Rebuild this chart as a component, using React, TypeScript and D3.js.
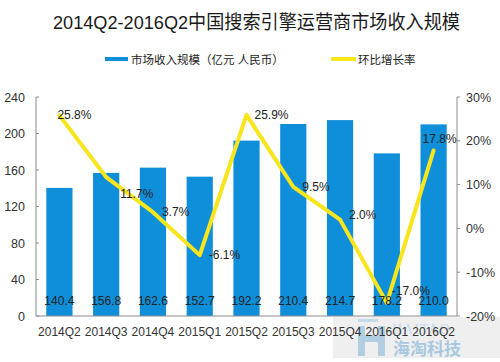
import React from "react";
import * as d3 from "d3";

const quarters = ["2014Q2", "2014Q3", "2014Q4", "2015Q1", "2015Q2", "2015Q3", "2015Q4", "2016Q1", "2016Q2"];
const revenue = [140.4, 156.8, 162.6, 152.7, 192.2, 210.4, 214.7, 178.2, 210.0];
const growth = [25.8, 11.7, 3.7, -6.1, 25.9, 9.5, 2.0, -17.0, 17.8];
const leftTicks = [0, 40, 80, 120, 160, 200, 240];
const rightTicks = [-20, -10, 0, 10, 20, 30];
// manual nudges for the growth labels, as in the original
const labelNudge = [[-2, 0], [14, 17], [9, 0], [9, 0], [8, 0], [9, 0], [9, -5], [5, -12], [-11, -11]];

const W = 500;
const H = 362;
const margin = { top: 97, right: 43, bottom: 46, left: 36 };
const font = "'Liberation Sans', 'Noto Sans CJK SC', sans-serif";
const blue = "#0f8fd9";
const yellow = "#f8e51c";

const App = () => {
  const x = d3.scaleBand().domain(quarters).range([margin.left, W - margin.right]).paddingInner(0.44).paddingOuter(0.22);
  const yL = d3.scaleLinear().domain([0, 240]).range([H - margin.bottom, margin.top]);
  const yR = d3.scaleLinear().domain([-20, 30]).range([H - margin.bottom, margin.top]);
  const cx = (q: string) => (x(q) as number) + x.bandwidth() / 2;

  const line = d3.line<number>()
    .x((_, i) => cx(quarters[i]))
    .y((d) => yR(d));

  const x0 = margin.left;
  const x1 = W - margin.right;
  const y0 = H - margin.bottom;

  return (
    <div style={{ position: "absolute", left: 0, top: 0 }}>
      <svg width={W} height={H} style={{ display: "block", fontFamily: font }}>
        <rect width={W} height={H} fill="#fff" />
        <text x={53} y={29} fontSize={19} fill="#1a1a1a" textLength={407} lengthAdjust="spacingAndGlyphs">
          2014Q2-2016Q2中国搜索引擎运营商市场收入规模
        </text>

        {/* legend */}
        <rect x={105} y={57} width={23} height={4} fill={blue} />
        <text x={131} y={63.5} fontSize={11.5} fill="#222">市场收入规模（亿元 人民币）</text>
        <rect x={331} y={57} width={25} height={4} fill={yellow} />
        <text x={358} y={63.5} fontSize={11.5} fill="#222">环比增长率</text>

        {/* watermark logo */}
        <g opacity={0.6}>
          <rect x={333} y={317} width={167} height={41} fill="#e6e6e6" />
          <rect x={358} y={319} width={20} height={3} fill="#9cc3dc" />
          <path d="M358,326 h7 v9 h13 v-9 h7 v30 h-7 v-14 h-13 v14 h-7 z" fill="#7fb0d0" />
          <text x={392} y={334} fontSize={14} fill="#9cc3dc" fontFamily="serif" letterSpacing={1}>HAITAO</text>
          <text x={393} y={355} fontSize={17} fontWeight="bold" fill="#6ea6cc">海淘科技</text>
        </g>

        {/* bars */}
        {quarters.map((q, i) => (
          <rect key={q} x={x(q)} y={yL(revenue[i])} width={x.bandwidth()} height={y0 - yL(revenue[i])} fill={blue} />
        ))}

        {/* axes */}
        <line x1={x0} x2={x0} y1={margin.top} y2={y0} stroke="#8c8c8c" />
        <line x1={x1} x2={x1} y1={margin.top} y2={y0} stroke="#8c8c8c" />
        <line x1={x0} x2={x1} y1={y0} y2={y0} stroke="#8c8c8c" />
        {leftTicks.map((t) => (
          <g key={t}>
            <line x1={x0} x2={x0 + 3} y1={yL(t)} y2={yL(t)} stroke="#8c8c8c" />
            <text x={25} y={yL(t) + 4.5} textAnchor="end" fontSize={12.5} fill="#333">{t}</text>
          </g>
        ))}
        {rightTicks.map((t) => (
          <g key={t}>
            <line x1={x1} x2={x1 + 3} y1={yR(t)} y2={yR(t)} stroke="#8c8c8c" />
            <text x={466} y={yR(t) + 4.5} fontSize={12.5} fill="#333">{t}%</text>
          </g>
        ))}
        {quarters.map((q) => (
          <text key={q} x={cx(q)} y={336} textAnchor="middle" fontSize={12} fill="#333">{q}</text>
        ))}

        {/* line */}
        <path d={line(growth) || ""} fill="none" stroke={yellow} strokeWidth={4} strokeLinejoin="round" strokeLinecap="round" />

        {/* value labels */}
        {quarters.map((q, i) => (
          <text key={q} x={cx(q)} y={305} textAnchor="middle" fontSize={12} fill="#222">
            {revenue[i].toFixed(1)}
          </text>
        ))}
        {quarters.map((q, i) => (
          <text key={q} x={cx(q) + labelNudge[i][0]} y={yR(growth[i]) + 4 + labelNudge[i][1]} fontSize={12} fill="#222">
            {growth[i].toFixed(1)}%
          </text>
        ))}
      </svg>
    </div>
  );
};

export default App;
